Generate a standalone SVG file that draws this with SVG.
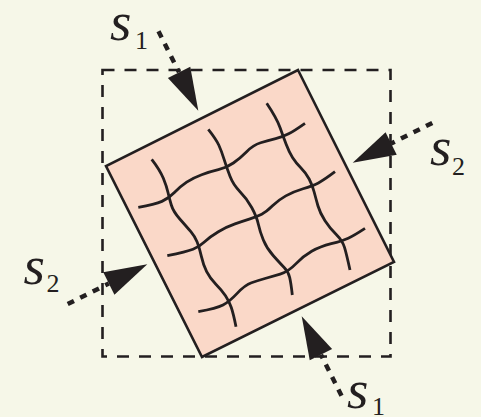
<svg xmlns="http://www.w3.org/2000/svg" width="481" height="417" viewBox="0 0 481 417">
<defs>
<style>
.frame{stroke:#231f20;stroke-width:2.6;fill:none;stroke-dasharray:12 10}
.sq{fill:#fad8c8;stroke:#231f20;stroke-width:2.6;stroke-linejoin:miter}
.grid path{fill:none;stroke:#231f20;stroke-width:2.8;stroke-linecap:butt}
.head{fill:#231f20}
.tail{stroke:#231f20;stroke-width:4.5;stroke-dasharray:7 7;fill:none}
.sym{font-style:italic;font-size:55px;fill:#231f20}
.sub{font-size:26px;fill:#231f20}
</style>
<g id="arrow">
<line class="tail" x1="-89" y1="0" x2="-43" y2="0"/>
<polygon class="head" points="0,0 -43,-12.5 -43,12.5"/>
</g>
</defs>
<rect width="481" height="417" fill="#f6f7e8"/>
<g id="frame">
<rect class="frame" x="102.5" y="70" width="288" height="286.5"/>
</g>
<g id="block">
<polygon class="sq" points="298,70 394,262 202,357 106,166"/>
<g class="grid">
<path d="M138.3,207.3 Q155,204.5 161.9,201.4 Q168.8,198.3 174.4,192.5 Q180,186.7 186.65,182.2 Q193.3,177.7 201.65,174.7 Q210,171.7 218.35,169.7 Q226.7,167.7 233.35,163 Q240,158.3 246.65,151.65 Q253.3,145 260.65,142.75 Q268,140.5 275.65,138.6 Q283.3,136.7 288.65,133.85 Q294,131 305,123.3"/>
<path d="M167.3,255.7 Q186.7,251.7 193,249.2 Q199.3,246.7 204.65,241.7 Q210,236.7 218.35,231.7 Q226.7,226.7 235,223.85 Q243.3,221 250,218.85 Q256.7,216.7 261.7,214.2 Q266.7,211.7 272.5,205.85 Q278.3,200 285.8,195.85 Q293.3,191.7 303.05,188.75 Q312.8,185.8 318.4,182.9 Q324,180 335,171.7"/>
<path d="M198.3,311.7 Q216.7,308.3 223,305 Q229.3,301.7 237.15,293.35 Q245,285 251.5,282.75 Q258,280.5 265,278.5 Q272,276.5 280.15,274.1 Q288.3,271.7 295.8,263.85 Q303.3,256 311.65,251.25 Q320,246.5 331.25,243.65 Q342.5,240.8 348.25,238.15 Q354,235.5 365,228.3"/>
<path d="M151.7,159.3 Q160,170 163.35,178.35 Q166.7,186.7 168,192.5 Q169.3,198.3 171.3,205 Q173.3,211.7 180,219.2 Q186.7,226.7 190.85,231.7 Q195,236.7 197.15,242 Q199.3,247.3 201.3,256.15 Q203.3,265 206.65,271.65 Q210,278.3 215.85,284.15 Q221.7,290 225.5,295.85 Q229.3,301.7 231.3,307.5 Q233.3,313.3 236,326.7"/>
<path d="M208.3,129.3 Q216,139 218.75,145 Q221.5,151 224.1,159.35 Q226.7,167.7 230,176.35 Q233.3,185 240,191.65 Q246.7,198.3 251.7,207.5 Q256.7,216.7 258.35,224.2 Q260,231.7 263.35,240 Q266.7,248.3 273.35,255.8 Q280,263.3 284.15,267.5 Q288.3,271.7 289.65,277.35 Q291,283 292.3,295"/>
<path d="M266.7,103.3 Q276.7,118.3 280,127.5 Q283.3,136.7 286.15,144.35 Q289,152 292.5,157.5 Q296,163 301,168 Q306,173 309.15,179 Q312.3,185 314.15,192 Q316,199 318,206 Q320,213 325,220.65 Q330,228.3 336.25,234.55 Q342.5,240.8 344.5,247.4 Q346.5,254 350,270"/>
</g>
</g>
<g id="connectors">
<use href="#arrow" transform="translate(198.3,110.8) rotate(63.43)"/>
<use href="#arrow" transform="translate(352.7,162.7) rotate(153.43)"/>
<use href="#arrow" transform="translate(301.7,316.2) rotate(243.43)"/>
<use href="#arrow" transform="translate(147.3,264.3) rotate(-26.57)"/>
</g>
<g id="label-s1-top" font-family="Liberation Serif, Times New Roman, serif"><text class="sym" x="110" y="40">s</text><text class="sub" x="135" y="49">1</text></g>
<g id="label-s2-right" font-family="Liberation Serif, Times New Roman, serif"><text class="sym" x="430" y="165">s</text><text class="sub" x="452" y="175">2</text></g>
<g id="label-s2-left" font-family="Liberation Serif, Times New Roman, serif"><text class="sym" x="23.5" y="284">s</text><text class="sub" x="46.5" y="292">2</text></g>
<g id="label-s1-bottom" font-family="Liberation Serif, Times New Roman, serif"><text class="sym" x="347" y="408">s</text><text class="sub" x="372" y="415">1</text></g>
</svg>
